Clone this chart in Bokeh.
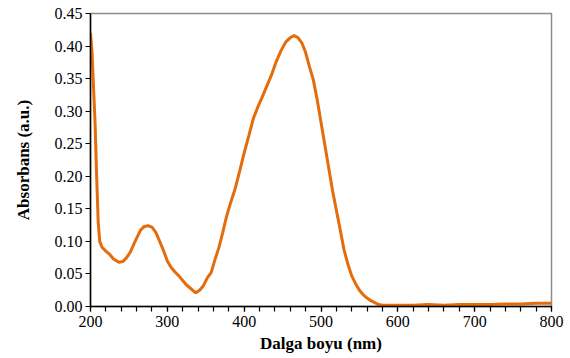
from bokeh.plotting import figure
from bokeh.embed import file_html
from bokeh.resources import INLINE
from bokeh.models import Range1d, FixedTicker, SingleIntervalTicker, NumeralTickFormatter, ColumnDataSource

wavelength = [200, 202, 204, 206, 208, 210, 212, 215, 220, 225, 230, 237, 242, 247, 252,
              258, 265, 270, 275, 280, 285, 290, 295, 300, 305, 310, 315, 320, 325, 330,
              337, 342, 347, 352, 357, 362, 367, 372, 377, 382, 388, 394, 400, 406, 412,
              418, 424, 430, 436, 442, 448, 454, 460, 465, 470, 475, 480, 485, 490, 495,
              500, 505, 510, 515, 520, 525, 530, 535, 540, 545, 550, 555, 560, 565, 570,
              575, 580, 590, 600, 620, 640, 660, 680, 700, 720, 740, 760, 780, 800]
absorbance = [0.420, 0.390, 0.335, 0.280, 0.200, 0.130, 0.100, 0.091, 0.085, 0.080, 0.073,
              0.068, 0.069, 0.075, 0.084, 0.100, 0.117, 0.123, 0.124, 0.122, 0.114, 0.100,
              0.086, 0.070, 0.060, 0.053, 0.047, 0.040, 0.033, 0.028, 0.021, 0.025, 0.032,
              0.044, 0.052, 0.072, 0.090, 0.113, 0.138, 0.158, 0.180, 0.207, 0.236, 0.262,
              0.289, 0.307, 0.323, 0.340, 0.357, 0.377, 0.393, 0.406, 0.413, 0.416, 0.413,
              0.405, 0.390, 0.368, 0.348, 0.318, 0.283, 0.248, 0.213, 0.178, 0.148, 0.118,
              0.087, 0.065, 0.047, 0.035, 0.025, 0.018, 0.013, 0.009, 0.006, 0.003, 0.002,
              0.002, 0.002, 0.002, 0.003, 0.002, 0.003, 0.003, 0.003, 0.004, 0.004, 0.005,
              0.005]
x_tick_step = 100
y_ticks = [0.00, 0.05, 0.10, 0.15, 0.20, 0.25, 0.30, 0.35, 0.40, 0.45]
x_label = "Dalga boyu (nm)"
y_label = "Absorbans (a.u.)"

FONT = "Liberation Serif"

p = figure(width=568, height=356, output_backend="svg", toolbar_location=None,
           x_range=Range1d(200, 800), y_range=Range1d(0, 0.45),
           min_border_left=90, min_border_right=17, min_border_top=13, min_border_bottom=50)
p.background_fill_color = "white"
p.border_fill_color = "white"
p.outline_line_color = "#8c8c8c"
p.outline_line_width = 1.5
p.grid.visible = False

src = ColumnDataSource(dict(x=wavelength, y=absorbance))
p.line("x", "y", source=src, line_color="#E46C0A", line_width=3)

xa = p.xaxis[0]
xa.ticker = SingleIntervalTicker(interval=x_tick_step, num_minor_ticks=5)
xa.axis_label = x_label
ya = p.yaxis[0]
ya.ticker = FixedTicker(ticks=y_ticks, minor_ticks=[])
ya.formatter = NumeralTickFormatter(format="0.00")
ya.axis_label = y_label

for ax in (xa, ya):
    ax.axis_line_color = "black"
    ax.axis_line_width = 1.5
    ax.major_tick_line_color = "black"
    ax.minor_tick_line_color = "black"
    ax.major_tick_line_width = 1.2
    ax.minor_tick_line_width = 1.2
    ax.major_tick_in = 0
    ax.major_tick_out = 5
    ax.minor_tick_in = 0
    ax.minor_tick_out = 5
    ax.major_label_text_font = FONT
    ax.major_label_text_font_size = "16px"
    ax.major_label_text_color = "black"
    ax.axis_label_text_font = FONT
    ax.axis_label_text_font_size = "17px"
    ax.axis_label_text_font_style = "bold"
    ax.axis_label_text_color = "black"
xa.major_label_standoff = 4
xa.axis_label_standoff = 4
ya.major_label_standoff = 3
ya.axis_label_standoff = 19

open("out.html", "w").write(file_html(p, INLINE))
